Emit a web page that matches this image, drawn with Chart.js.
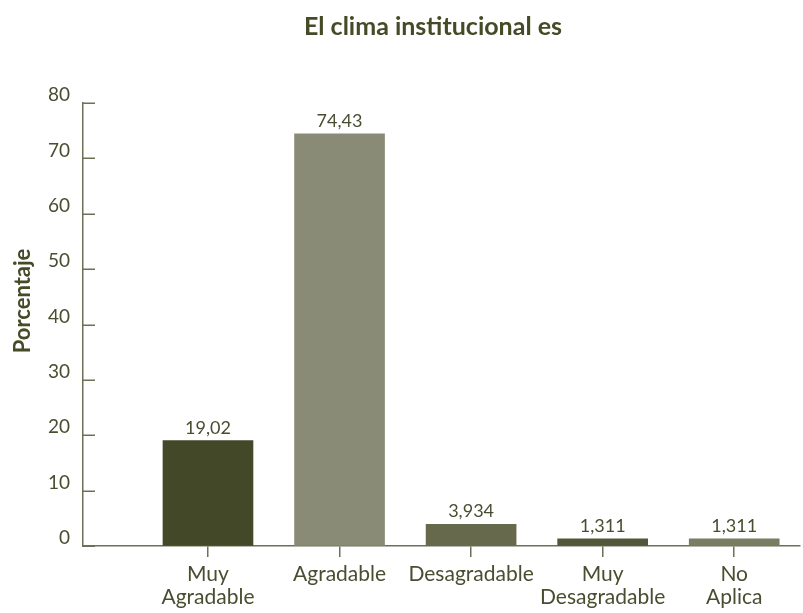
<!DOCTYPE html>
<html lang="es">
<head>
<meta charset="utf-8">
<script src="https://cdn.jsdelivr.net/npm/chart.js@4.4.1/dist/chart.umd.min.js"></script>
<style>
    html, body { margin: 0; padding: 0; background: #ffffff; }
    #wrap { width: 803px; height: 613px; }
</style>
</head>
<body>
<div id="wrap"><canvas id="climaChart" width="803" height="613"></canvas></div>
<script>
// Datos del gráfico
const chartTitle = 'El clima institucional es';
const yAxisTitle = 'Porcentaje';
const categorias = [['Muy', 'Agradable'], 'Agradable', 'Desagradable', ['Muy', 'Desagradable'], ['No', 'Aplica']];
const porcentajes = [19.02, 74.43, 3.934, 1.311, 1.311];
const coloresBarras = ['#434828', '#8a8b76', '#66694b', '#52573a', '#7a7c64'];
const yTicks = [0, 10, 20, 30, 40, 50, 60, 70, 80];

const fontName = 'Lato';
const textColor = '#4a4d30';
const axisColor = '#6d7057';

function formatoComa(v) {
    return String(v).replace('.', ',');
}

// títulos, marcas interiores del eje y, y etiquetas de valor
const extrasPlugin = {
    id: 'extras',
    afterDraw(chart) {
        const ctx = chart.ctx;
        const area = chart.chartArea;
        const yScale = chart.scales.y;

        ctx.save();
        ctx.strokeStyle = axisColor;
        ctx.lineWidth = 1.5;
        yTicks.forEach(v => {
            const py = Math.round(yScale.getPixelForValue(v)) + 0.25;
            ctx.beginPath();
            ctx.moveTo(area.left, py);
            ctx.lineTo(area.left + 12, py);
            ctx.stroke();
        });

        ctx.fillStyle = textColor;
        ctx.font = `18px ${fontName}`;
        ctx.textAlign = 'center';
        ctx.textBaseline = 'alphabetic';
        const meta = chart.getDatasetMeta(0);
        meta.data.forEach((bar, i) => {
            ctx.fillText(formatoComa(porcentajes[i]), bar.x, bar.y - 7);
        });

        ctx.fillStyle = '#454b27';
        ctx.font = `bold 25px ${fontName}`;
        ctx.textBaseline = 'middle';
        ctx.fillText(chartTitle, 433, 27);

        ctx.translate(23, 301);
        ctx.rotate(-Math.PI / 2);
        ctx.font = `bold 22px ${fontName}`;
        ctx.fillText(yAxisTitle, 0, 0);
        ctx.restore();
    }
};

const ctx1 = document.getElementById('climaChart');
const climaChart = new Chart(ctx1.getContext('2d'), {
    type: 'bar',
    data: {
        datasets: [{
            data: porcentajes.map((v, i) => ({ x: i, y: v })),
            backgroundColor: coloresBarras,
            borderWidth: 0,
            barThickness: 90
        }]
    },
    options: {
        responsive: false,
        animation: false,
        layout: { padding: { top: 103, right: 3, left: 0, bottom: 0 } },
        plugins: {
            legend: { display: false },
            tooltip: { enabled: false },
            title: { display: false }
        },
        scales: {
            x: {
                type: 'linear',
                min: -0.95,
                max: 4.5,
                offset: false,
                afterBuildTicks: s => { s.ticks = porcentajes.map((v, i) => ({ value: i })); },
                afterFit: s => { s.height = 67; },
                grid: { offset: false, drawOnChartArea: false, drawTicks: true, tickLength: 11, color: axisColor, lineWidth: 1.5 },
                border: { display: true, color: axisColor, width: 1.5 },
                ticks: {
                    callback: (value, index) => categorias[index],
                    font: { family: fontName, size: 21, lineHeight: 1.1 },
                    color: textColor,
                    padding: 6,
                    maxRotation: 0,
                    autoSkip: false
                }
            },
            y: {
                min: 0,
                max: 80,
                afterBuildTicks: s => { s.ticks = yTicks.map(v => ({ value: v })); },
                afterFit: s => { s.width = 83; },
                grid: { display: true, drawOnChartArea: false, drawTicks: false },
                border: { display: true, color: axisColor, width: 1.5 },
                ticks: {
                    font: { family: fontName, size: 19 },
                    color: textColor,
                    padding: 13,
                    labelOffset: -8
                }
            }
        }
    },
    plugins: [extrasPlugin]
});
</script>
</body>
</html>
